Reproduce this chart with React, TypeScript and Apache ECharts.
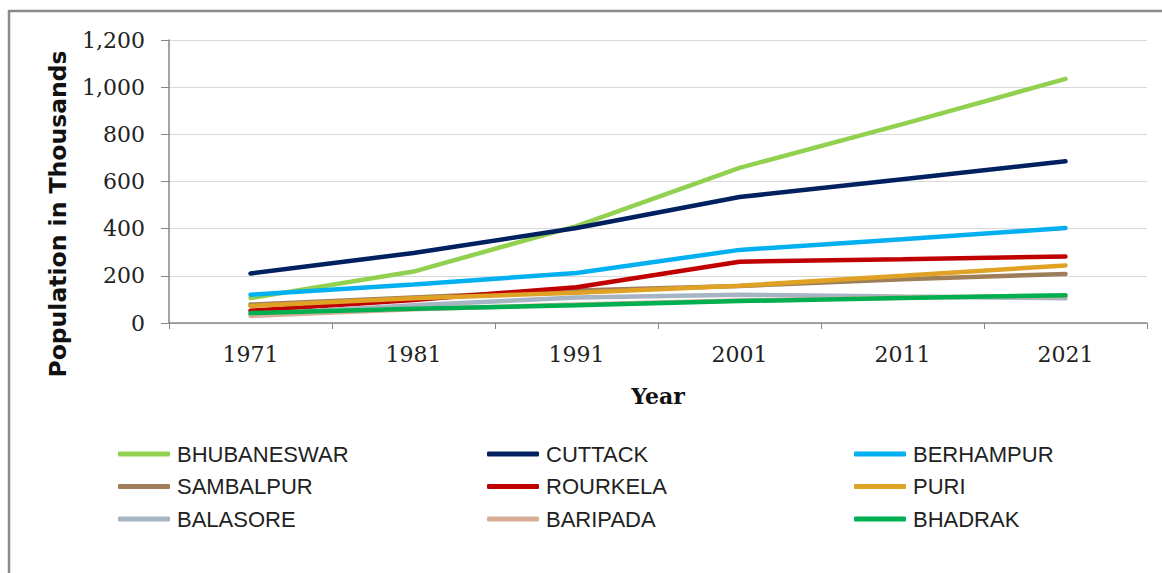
import React, { useEffect, useRef } from "react";
import * as echarts from "echarts";

const years = ["1971", "1981", "1991", "2001", "2011", "2021"];
const bhubaneswar = [106, 218, 411, 658, 843, 1035];
const cuttack = [210, 297, 403, 534, 610, 686];
const berhampur = [120, 163, 212, 310, 355, 403];
const sambalpur = [78, 108, 138, 157, 185, 208];
const rourkela = [52, 98, 152, 260, 270, 282];
const puri = [72, 105, 128, 158, 200, 244];
const balasore = [36, 75, 108, 120, 112, 105];
const baripada = [30, 58, 78, 95, 108, 115];
const bhadrak = [42, 60, 75, 93, 106, 118];

const cityNames = ["BHUBANESWAR", "CUTTACK", "BERHAMPUR", "SAMBALPUR", "ROURKELA", "PURI", "BALASORE", "BARIPADA", "BHADRAK"];
const cityValues = [bhubaneswar, cuttack, berhampur, sambalpur, rourkela, puri, balasore, baripada, bhadrak];
const cityColors = ["#92D050", "#002060", "#00B0F0", "#9E7E5A", "#C00000", "#DFA225", "#A6B4C4", "#D8AE96", "#00B050"];

const legendColumns = [
  ["BHUBANESWAR", "SAMBALPUR", "BALASORE"],
  ["CUTTACK", "ROURKELA", "BARIPADA"],
  ["BERHAMPUR", "PURI", "BHADRAK"],
];
const legendLefts = [118, 487, 854];
const yAxisTitle = "Population in Thousands";

export default function App() {
  const ref = useRef<HTMLDivElement>(null);
  useEffect(() => {
    document.body.style.margin = "0";
    const chart = echarts.init(ref.current!, null, { renderer: "svg" });
    const tickFont = { fontFamily: "DejaVu Serif", fontSize: 22, color: "#222" };
    chart.setOption({
      animation: false,
      backgroundColor: "#fff",
      graphic: [
        {
          type: "polyline",
          shape: { points: [[9, 600], [9, 11], [1170, 11]] },
          style: { stroke: "#8a8a8a", lineWidth: 2.5, fill: "none" },
          silent: true,
        },
        {
          type: "text",
          x: 58,
          y: 214,
          rotation: Math.PI / 2,
          style: {
            text: yAxisTitle,
            fontFamily: "DejaVu Sans",
            fontWeight: "bold",
            fontSize: 23.5,
            fill: "#111",
            align: "center",
            verticalAlign: "middle",
          },
          silent: true,
        },
      ],
      grid: { left: 169, right: 15, top: 40, bottom: 250, containLabel: false },
      legend: legendColumns.map((col, i) => ({
        data: col,
        left: legendLefts[i],
        top: 443,
        padding: 0,
        orient: "vertical",
        itemGap: 10.5,
        itemWidth: 52,
        itemHeight: 5,
        icon: "roundRect",
        selectedMode: false,
        textStyle: { fontFamily: "Liberation Sans", fontSize: 22, color: "#222", lineHeight: 20, padding: [0, 0, 0, 2] },
      })),
      xAxis: {
        type: "category",
        data: years,
        boundaryGap: true,
        name: "Year",
        nameLocation: "middle",
        nameGap: 62,
        nameTextStyle: { fontFamily: "DejaVu Serif", fontWeight: "bold", fontSize: 22, color: "#111" },
        axisLine: { lineStyle: { color: "#868686", width: 1.5 } },
        axisTick: { show: true, length: 6, lineStyle: { color: "#868686" } },
        axisLabel: { ...tickFont, margin: 20 },
      },
      yAxis: {
        type: "value",
        min: 0,
        max: 1200,
        interval: 200,
        axisLine: { show: true, lineStyle: { color: "#868686", width: 1.5 } },
        axisTick: { show: true, length: 8, lineStyle: { color: "#868686" } },
        splitLine: { lineStyle: { color: "#d9d9d9", width: 1 } },
        axisLabel: {
          ...tickFont,
          margin: 24,
          formatter: (v: number) => v.toLocaleString("en-US"),
        },
      },
      series: cityNames.map((name, i) => ({
        name,
        type: "line",
        data: cityValues[i],
        showSymbol: false,
        symbol: "none",
        lineStyle: { width: 4.5, color: cityColors[i], cap: "round" },
        itemStyle: { color: cityColors[i] },
      })),
    });
    return () => chart.dispose();
  }, []);
  return <div ref={ref} style={{ width: 1162, height: 573 }} />;
}
